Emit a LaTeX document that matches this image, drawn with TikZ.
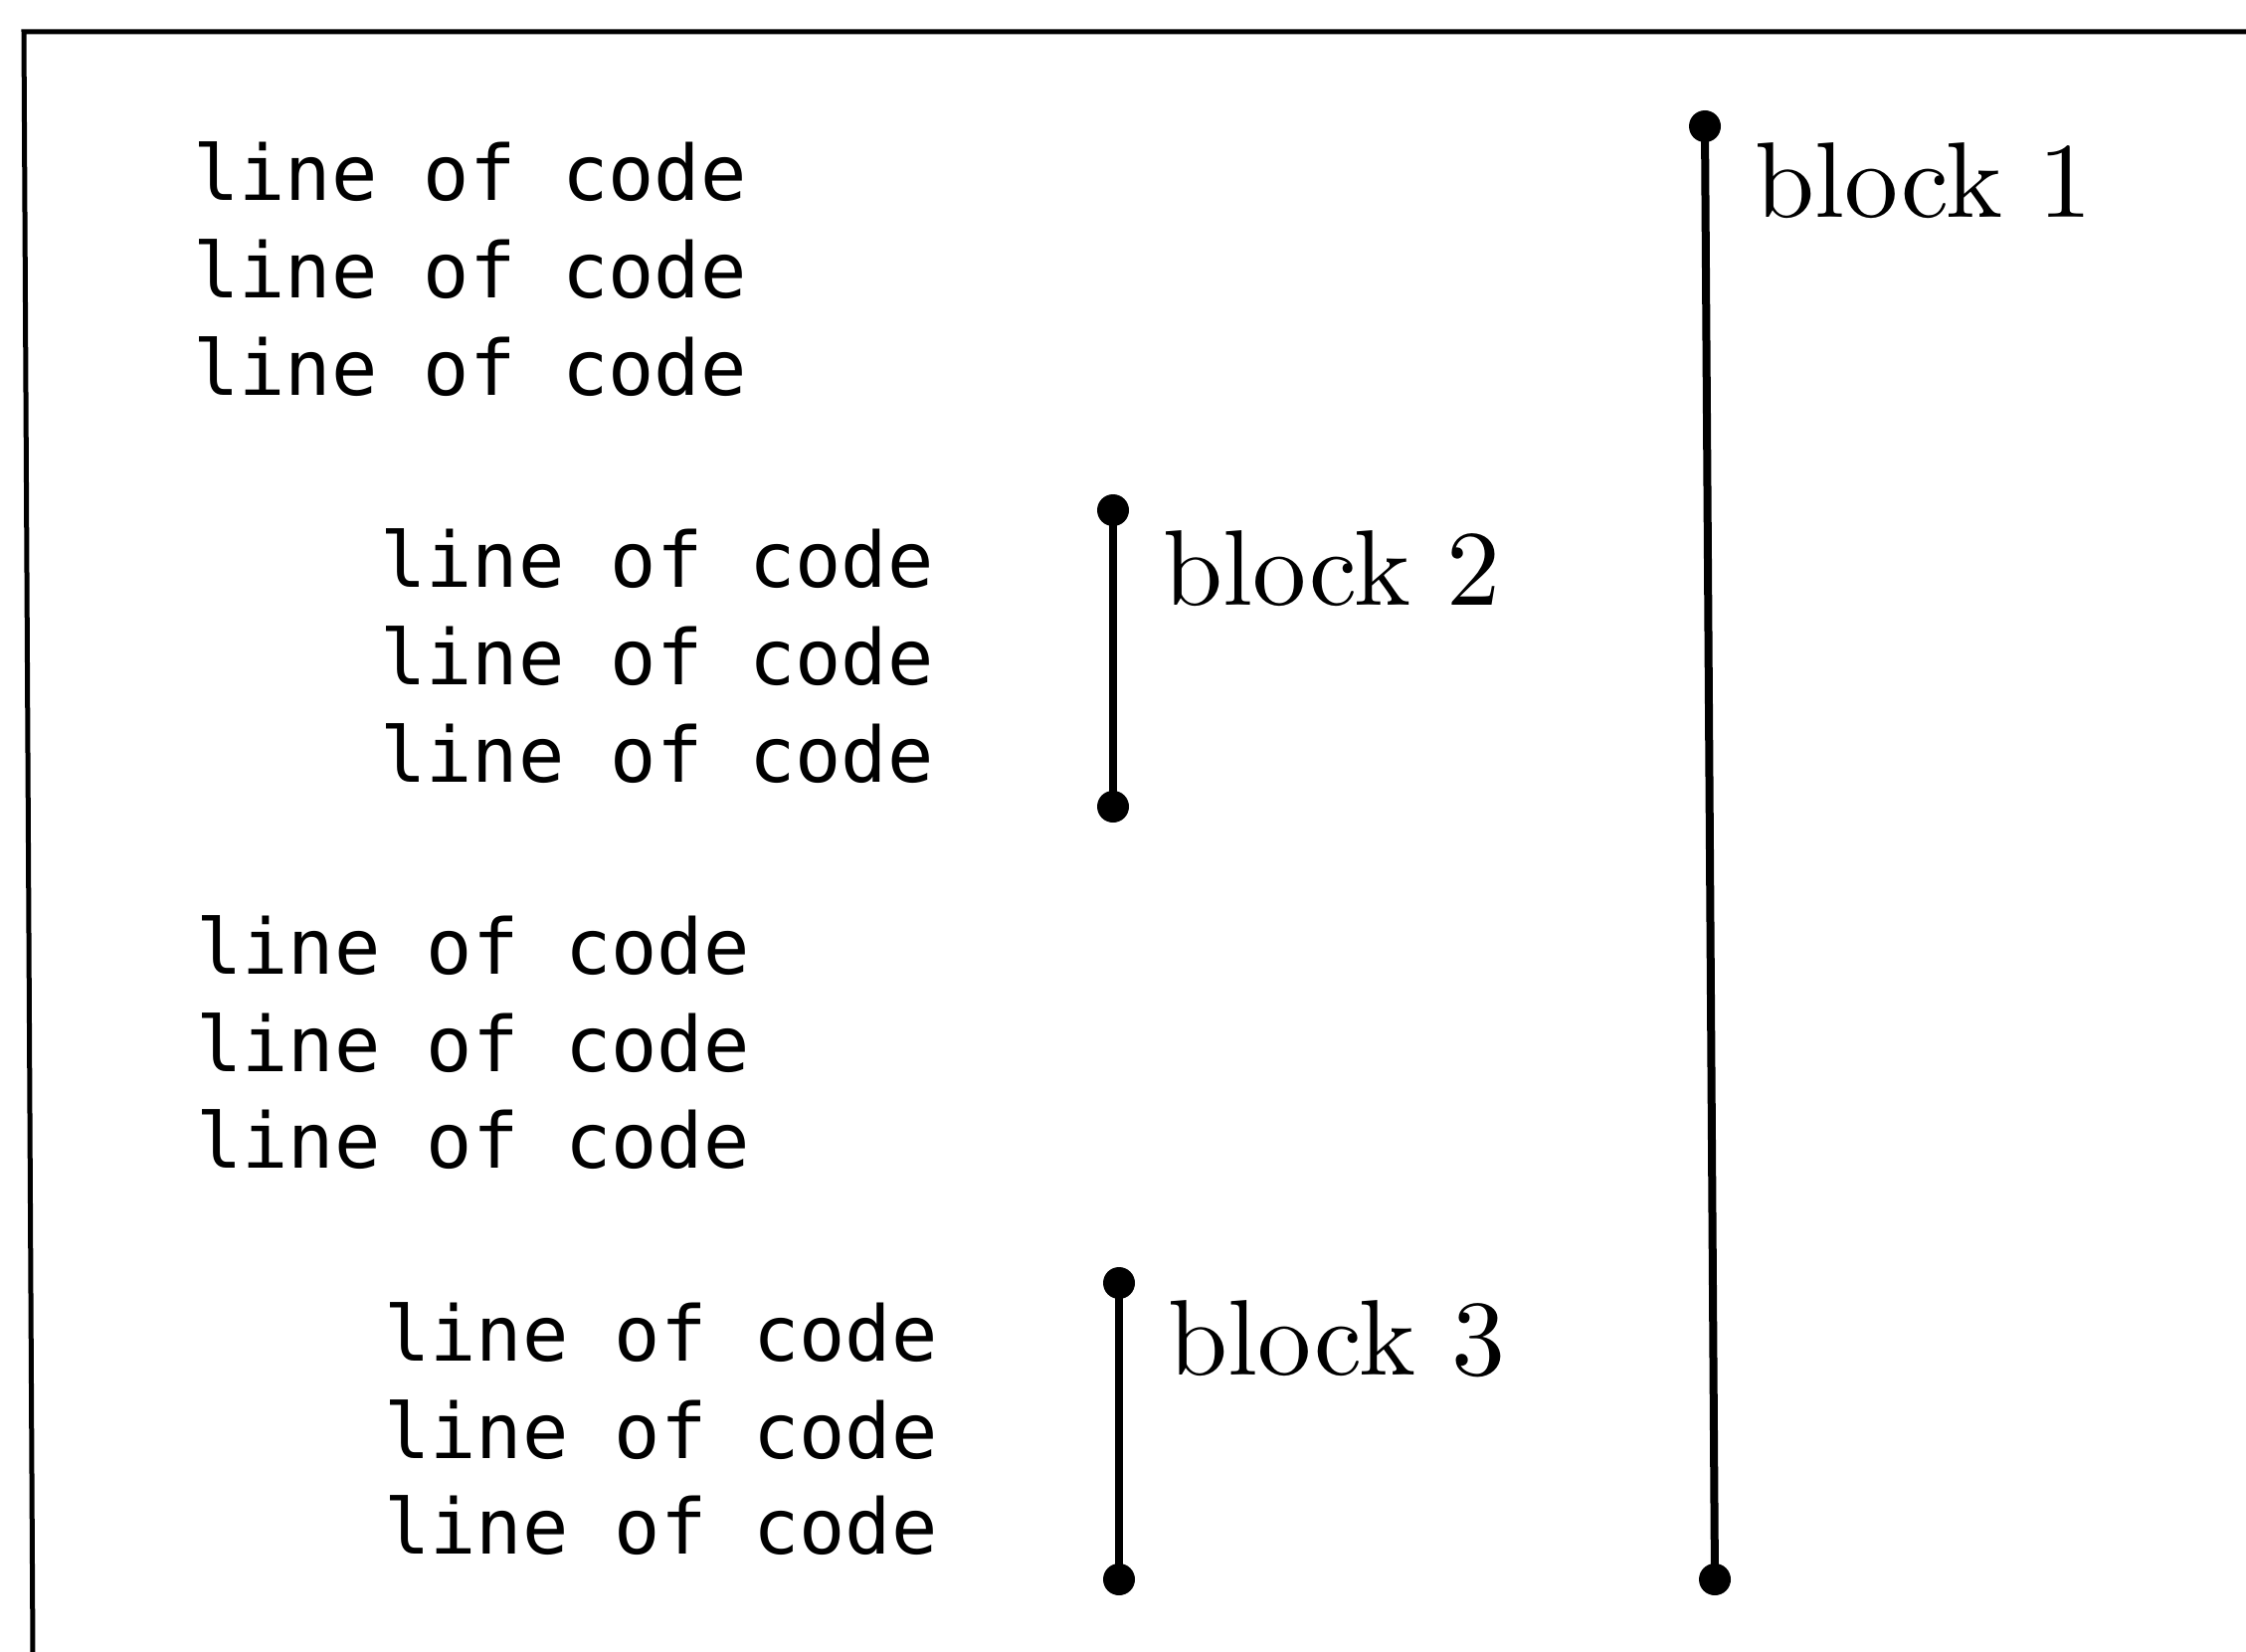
\documentclass[tikz,border=0pt]{standalone}
\usepackage{fontspec}
\newfontfamily\codefont{DejaVu Sans Mono}
\newfontfamily\labelfont{lmroman10-regular}[Extension=.otf]
\begin{document}
\begin{tikzpicture}[x=1pt,y=-1pt,
  codeline/.style={anchor=base west,inner sep=0pt,font=\codefont\fontsize{77}{98}\selectfont},
  blocklabel/.style={anchor=base west,inner sep=0pt,font=\labelfont\fontsize{108}{130}\selectfont},
  enddot/.style={circle,fill=black,inner sep=0pt,minimum size=32pt},
  bar/.style={line width=8pt},
  frameline/.style={line width=5pt}]
\useasboundingbox (0,0) rectangle (2258,1661);
% frame (only top and left edges visible)
\coordinate (ftr) at (2260,32);
\coordinate (ftl) at (24,32);
\coordinate (fbl) at (33,1663);
\draw[frameline] (ftr) -- (ftl) -- (fbl);
% code lines
\node[codeline] (g1a) at (194,202) {line of code};
\node[codeline] (g1b) at (194,300) {line of code};
\node[codeline] (g1c) at (194,397) {line of code};
\node[codeline] (g2a) at (382,590) {line of code};
\node[codeline] (g2b) at (382,688) {line of code};
\node[codeline] (g2c) at (382,786) {line of code};
\node[codeline] (g3a) at (197,979) {line of code};
\node[codeline] (g3b) at (197,1077) {line of code};
\node[codeline] (g3c) at (197,1174) {line of code};
\node[codeline] (g4a) at (386,1368) {line of code};
\node[codeline] (g4b) at (386,1466) {line of code};
\node[codeline] (g4c) at (386,1562) {line of code};
% block bars
\node[enddot] (b1t) at (1714,127) {};
\node[enddot] (b1b) at (1724,1588) {};
\draw[bar] (b1t.center) -- (b1b.center);
\node[enddot] (b2t) at (1119,513) {};
\node[enddot] (b2b) at (1119,811) {};
\draw[bar] (b2t.center) -- (b2b.center);
\node[enddot] (b3t) at (1125,1290) {};
\node[enddot] (b3b) at (1125,1588) {};
\draw[bar] (b3t.center) -- (b3b.center);
% labels
\node[blocklabel] (l1) at (1764,219) {block 1};
\node[blocklabel] (l2) at (1169,608) {block 2};
\node[blocklabel] (l3) at (1174,1382) {block 3};
\end{tikzpicture}
\end{document}
